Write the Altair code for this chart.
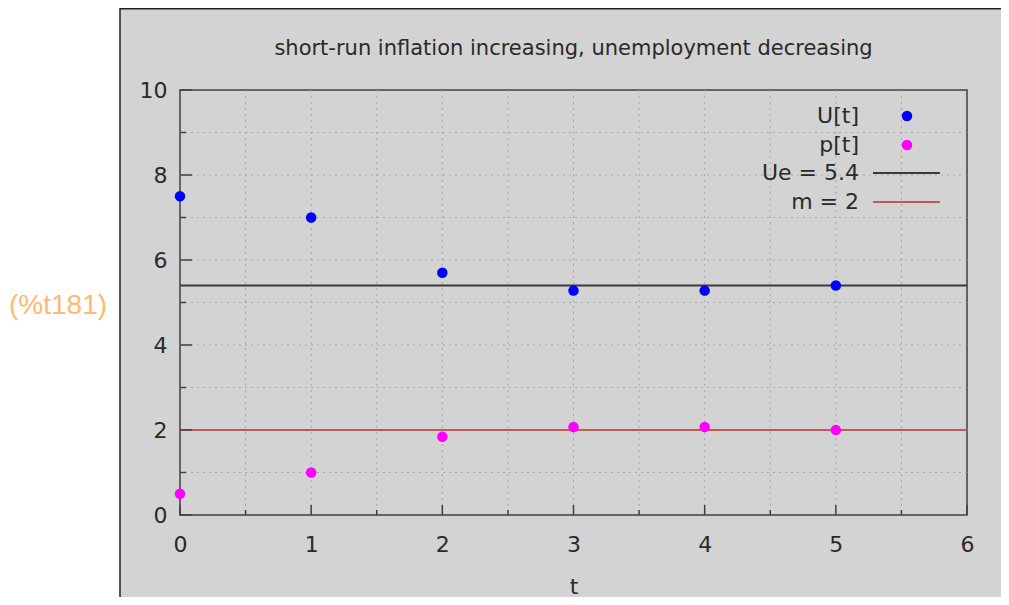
import altair as alt
import pandas as pd

# ---- data ----
t = [0, 1, 2, 3, 4, 5]
U = [7.5, 7.0, 5.7, 5.28, 5.28, 5.4]
p = [0.5, 1.0, 1.84, 2.07, 2.07, 2.0]
Ue = 5.4
m = 2
x_major = [0, 1, 2, 3, 4, 5, 6]
x_minor = [0.5, 1.5, 2.5, 3.5, 4.5, 5.5]
y_major = [0, 2, 4, 6, 8, 10]
y_minor = [1, 3, 5, 7, 9]
x_grid = [0.5, 1, 1.5, 2, 2.5, 3, 3.5, 4, 4.5, 5, 5.5]
y_grid = [1, 2, 3, 4, 5, 6, 7, 8, 9]
legend_labels = ["U[t]", "p[t]", "Ue = 5.4", "m = 2"]
title_text = "short-run inflation increasing, unemployment decreasing"
cell_label = "(%t181)"

# ---- layout ----
W, H = 787, 425
PL, PT, PR, PB = 172, 82, 34, 82
FONT = "DejaVu Sans"
TXT = "#2a2a2a"
GRAY = "#d3d3d3"

pts = pd.DataFrame({"t": t, "U": U, "p": p})
hl = pd.DataFrame({"v": [Ue, m], "name": ["Ue", "m"]})

xs = alt.Scale(domain=[0, 6], nice=False, zero=False)
ys = alt.Scale(domain=[0, 10], nice=False, zero=False)
xaxis = alt.Axis(values=x_major, title="t", grid=False, ticks=False, domain=False,
                 labelFontSize=22, labelFont=FONT, labelColor=TXT, labelPadding=19,
                 labelFlush=False, labelOverlap=False,
                 titleFontSize=22, titleFont=FONT, titleColor=TXT, titleFontWeight="normal",
                 titlePadding=21, format="d")
yaxis = alt.Axis(values=y_major, title=None, grid=False, ticks=False, domain=False,
                 labelFontSize=22, labelFont=FONT, labelColor=TXT, labelPadding=13,
                 labelFlush=False, labelOverlap=False, format="d")


def X(f):
    return alt.X(f"{f}:Q", scale=xs, axis=xaxis)


def Y(f):
    return alt.Y(f"{f}:Q", scale=ys, axis=yaxis)


one = pd.DataFrame({"k": [0]})

# left white strip and frame lines (decoration)
white = alt.Chart(one).mark_rect(color="white").encode(
    x=alt.value(-PL), x2=alt.value(-60), y=alt.value(-PT), y2=alt.value(H + PB))
vline = alt.Chart(one).mark_rule(color="#222222", strokeWidth=1.5).encode(
    x=alt.value(-60), y=alt.value(-PT), y2=alt.value(H + PB))
topline = alt.Chart(one).mark_rule(color="#222222", strokeWidth=1.5).encode(
    x=alt.value(-60), x2=alt.value(W + PR), y=alt.value(-PT + 0.75))
label = alt.Chart(one).mark_text(text=cell_label, font="Liberation Sans", fontSize=28,
                                 color="#ffb870", align="left", baseline="middle").encode(
    x=alt.value(-171), y=alt.value(216))

# title drawn as text above the plot
title = alt.Chart(one).mark_text(text=title_text, font=FONT, fontSize=21, color=TXT,
                                 align="center", baseline="middle").encode(
    x=alt.value(W / 2), y=alt.value(-41))

# grid
gx = alt.Chart(pd.DataFrame({"g": x_grid})).mark_rule(
    color="#a8a8a8", strokeDash=[2, 4], strokeWidth=1).encode(x=X("g"))
gy = alt.Chart(pd.DataFrame({"g": y_grid})).mark_rule(
    color="#a8a8a8", strokeDash=[2, 4], strokeWidth=1).encode(y=Y("g"))

# inward ticks
tick_color = "#404040"
tx_major = alt.Chart(pd.DataFrame({"g": x_major})).mark_rule(color=tick_color, strokeWidth=1.5).encode(
    x=X("g"), y=alt.value(H), y2=alt.value(H - 10))
tx_minor = alt.Chart(pd.DataFrame({"g": x_minor})).mark_rule(color=tick_color, strokeWidth=1.5).encode(
    x=X("g"), y=alt.value(H), y2=alt.value(H - 5))
ty_major = alt.Chart(pd.DataFrame({"g": y_major})).mark_rule(color=tick_color, strokeWidth=1.5).encode(
    y=Y("g"), x=alt.value(0), x2=alt.value(12))
ty_minor = alt.Chart(pd.DataFrame({"g": y_minor})).mark_rule(color=tick_color, strokeWidth=1.5).encode(
    y=Y("g"), x=alt.value(0), x2=alt.value(6))

# horizontal reference lines
line_ue = alt.Chart(hl[hl.name == "Ue"]).mark_rule(color="#3a3a3a", strokeWidth=2).encode(y=Y("v"))
line_m = alt.Chart(hl[hl.name == "m"]).mark_rule(color="#c05a5a", strokeWidth=2).encode(y=Y("v"))

# points
pu = alt.Chart(pts).mark_circle(color="#0000ff", size=110, opacity=1).encode(x=X("t"), y=Y("U"))
pp = alt.Chart(pts).mark_circle(color="#ff00ff", size=110, opacity=1).encode(x=X("t"), y=Y("p"))

# manual legend (gnuplot style: label left, sample right)
rows_y = [26, 55, 83, 112]
leg = []
for lab, yy in zip(legend_labels, rows_y):
    leg.append(alt.Chart(one).mark_text(text=lab, font=FONT, fontSize=22, color=TXT,
                                        align="right", baseline="middle").encode(
        x=alt.value(679), y=alt.value(yy)))
leg.append(alt.Chart(one).mark_circle(color="#0000ff", size=110, opacity=1).encode(
    x=alt.value(727), y=alt.value(rows_y[0])))
leg.append(alt.Chart(one).mark_circle(color="#ff00ff", size=110, opacity=1).encode(
    x=alt.value(727), y=alt.value(rows_y[1])))
leg.append(alt.Chart(one).mark_rule(color="#3a3a3a", strokeWidth=2).encode(
    x=alt.value(693), x2=alt.value(760), y=alt.value(rows_y[2])))
leg.append(alt.Chart(one).mark_rule(color="#c05a5a", strokeWidth=2).encode(
    x=alt.value(693), x2=alt.value(760), y=alt.value(rows_y[3])))

chart = alt.layer(
    white, vline, topline, label, title, gx, gy, line_ue, line_m,
    tx_major, tx_minor, ty_major, ty_minor, pu, pp, *leg
).properties(
    width=W, height=H,
    padding={"left": PL, "top": PT, "right": PR, "bottom": PB},
    autosize=alt.AutoSizeParams(type="none"),
    background=GRAY,
).configure_view(
    stroke="#404040", strokeWidth=1.5, fill=GRAY
)

chart.save("out.html", embed_options={"renderer": "svg", "actions": False})
